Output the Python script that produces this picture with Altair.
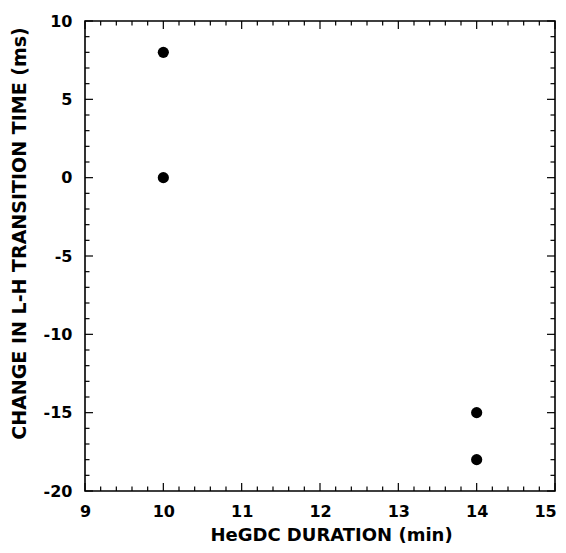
import altair as alt
import pandas as pd

# data
duration = [10, 10, 14, 14]
change = [8, 0, -15, -18]

x_major = [9, 10, 11, 12, 13, 14, 15]
x_minor = [9.2, 9.4, 9.6, 9.8, 10.2, 10.4, 10.6, 10.8, 11.2, 11.4, 11.6, 11.8,
           12.2, 12.4, 12.6, 12.8, 13.2, 13.4, 13.6, 13.8, 14.2, 14.4, 14.6, 14.8]
y_major = [-20, -15, -10, -5, 0, 5, 10]
y_minor = [-19, -18, -17, -16, -14, -13, -12, -11, -9, -8, -7, -6, -4, -3, -2, -1,
           1, 2, 3, 4, 6, 7, 8, 9]

x_title = "HeGDC DURATION (min)"
y_title = "CHANGE IN L-H TRANSITION TIME (ms)"

W, H = 470, 470
MAJ, MIN = 8, 4.5
LABEL_FONT = "DejaVu Sans"
TITLE_FONT = "DejaVu Sans"

xs = alt.Scale(domain=[9, 15], nice=False, zero=False)
ys = alt.Scale(domain=[-20, 10], nice=False, zero=False)

x_axis = alt.Axis(values=x_major, labelExpr="'' + datum.value", ticks=False, domain=False,
                  grid=False, labelFont=LABEL_FONT, labelFontSize=16, labelFontWeight="bold",
                  labelColor="black", labelPadding=12, labelFlush=False,
                  labelOffset={"condition": {"test": "datum.value == 15", "value": -10}, "value": 0},
                  titleFont=TITLE_FONT, titleFontSize=18, titleFontWeight="bold",
                  titleColor="black", titleBaseline="alphabetic", titleY=49,
                  titleX=246)
y_axis = alt.Axis(values=y_major, labelExpr="'' + datum.value", ticks=False, domain=False,
                  grid=False, labelFont=LABEL_FONT, labelFontSize=16, labelFontWeight="bold",
                  labelColor="black", labelPadding=13, labelFlush=False,
                  titleFont=TITLE_FONT, titleFontSize=19, titleFontWeight="bold",
                  titleColor="black", titleBaseline="alphabetic", titleX=-60,
                  titleY=212)


def X(field):
    return alt.X(field, type="quantitative", scale=xs, title=x_title, axis=x_axis)


def Y(field):
    return alt.Y(field, type="quantitative", scale=ys, title=y_title, axis=y_axis)


pts = pd.DataFrame({"x": duration, "y": change})

points = alt.Chart(pts).mark_point(filled=True, color="black", size=125, opacity=1).encode(
    x=X("x"), y=Y("y"))


def xticks(vals, length, bottom=True):
    y0 = H if bottom else 0
    y1 = H - length if bottom else length
    return alt.Chart(pd.DataFrame({"v": vals})).mark_rule(color="black", strokeWidth=1.2).encode(
        x=X("v"), y=alt.value(y0), y2=alt.value(y1))


def yticks(vals, length, left=True):
    x0 = 0 if left else W
    x1 = length if left else W - length
    return alt.Chart(pd.DataFrame({"v": vals})).mark_rule(color="black", strokeWidth=1.2).encode(
        y=Y("v"), x=alt.value(x0), x2=alt.value(x1))


layers = [
    points,
    xticks(x_major, MAJ, True), xticks(x_minor, MIN, True),
    xticks(x_major, MAJ, False), xticks(x_minor, MIN, False),
    yticks(y_major, MAJ, True), yticks(y_minor, MIN, True),
    yticks(y_major, MAJ, False), yticks(y_minor, MIN, False),
]

chart = alt.layer(*layers).properties(
    width=W, height=H,
    autosize=alt.AutoSizeParams(type="none"),
    padding={"left": 77, "top": 13, "right": 3, "bottom": 54},
    background="white",
).configure_view(stroke="black", strokeWidth=1.6)

chart.save("out.html", embed_options={"renderer": "svg", "actions": False})
